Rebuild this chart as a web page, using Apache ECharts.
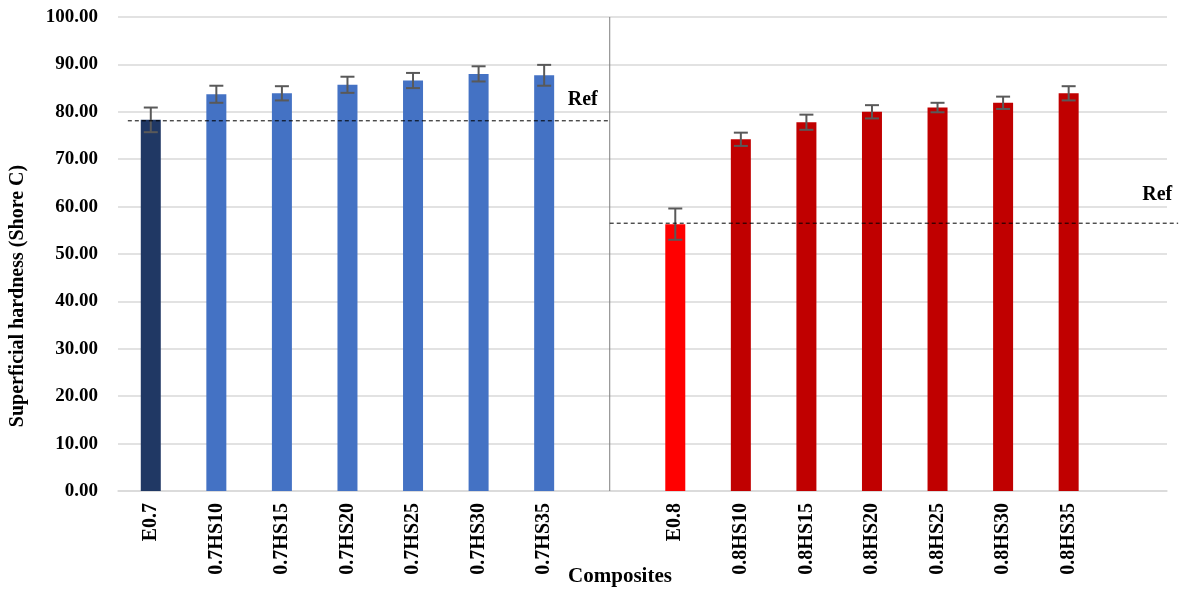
<!DOCTYPE html>
<html><head><meta charset="utf-8">
<script src="https://cdn.jsdelivr.net/npm/echarts@6/dist/echarts.min.js"></script>
<style>html,body{margin:0;padding:0;background:#fff}#c{width:1187px;height:596px}</style>
</head><body><div id="c"></div>
<script>
const categories = ['E0.7','0.7HS10','0.7HS15','0.7HS20','0.7HS25','0.7HS30','0.7HS35','gap1',
                    'E0.8','0.8HS10','0.8HS15','0.8HS20','0.8HS25','0.8HS30','0.8HS35','gap2'];
const hardness = [78.3, 83.7, 83.9, 85.7, 86.6, 88.0, 87.7, null,
                  56.3, 74.2, 77.8, 80.0, 80.9, 81.9, 83.9, null];
const errors = [2.6, 1.8, 1.5, 1.7, 1.6, 1.6, 2.2, null,
                3.3, 1.4, 1.6, 1.4, 1.0, 1.3, 1.5, null];
const barColors = ['#203864','#4472c4','#4472c4','#4472c4','#4472c4','#4472c4','#4472c4',null,
                   '#ff0000','#c00000','#c00000','#c00000','#c00000','#c00000','#c00000',null];
const refValues = [78.1, 56.5];
const yTicks = [0,10,20,30,40,50,60,70,80,90,100];

const font = 'Liberation Serif';
const chart = echarts.init(document.getElementById('c'));

const barData = hardness.map((v,i)=> v==null ? null : {value:v, itemStyle:{color:barColors[i]}});
const errData = hardness.map((v,i)=> v==null ? null : [i, v-errors[i], v+errors[i]]).filter(d=>d);

chart.setOption({
  animation:false,
  grid:{left:118,right:20,top:17,bottom:105},
  graphic:[
    {type:'text', x:18, y:296, rotation:Math.PI/2,
     style:{text:'Superficial hardness (Shore C)', align:'center', verticalAlign:'middle',
            fontFamily:font, fontWeight:'bold', fontSize:20, fill:'#000'}},
    {type:'text', x:620, y:577,
     style:{text:'Composites', align:'center', verticalAlign:'middle',
            fontFamily:font, fontWeight:'bold', fontSize:21, fill:'#000'}}
  ],
  xAxis:{
    type:'category', data:categories,
    axisLine:{lineStyle:{color:'#d9d9d9',width:1.5}},
    axisTick:{show:false},
    axisLabel:{rotate:90,interval:0,fontFamily:font,fontWeight:'bold',fontSize:20,color:'#000',margin:12,
      formatter:v=> v.indexOf('gap')===0 ? '' : v}
  },
  yAxis:{
    type:'value', min:0, max:100, interval:10,
    axisLine:{show:false}, axisTick:{show:false},
    axisLabel:{fontFamily:font,fontWeight:'bold',fontSize:19,color:'#000',margin:20,
      formatter:v=>v.toFixed(2)},
    splitLine:{lineStyle:{color:'#d9d9d9',width:1.5}}
  },
  series:[
    {type:'bar', data:barData, barWidth:20, z:2},
    {type:'custom', z:5, data:errData, clip:false,
      renderItem:(params,api)=>{
        const x=api.value(0);
        const lo=api.coord([x,api.value(1)]);
        const hi=api.coord([x,api.value(2)]);
        const w=7;
        const st={stroke:'#595959',lineWidth:2};
        return {type:'group',children:[
          {type:'line',shape:{x1:lo[0],y1:lo[1],x2:hi[0],y2:hi[1]},style:st},
          {type:'line',shape:{x1:lo[0]-w,y1:lo[1],x2:lo[0]+w,y2:lo[1]},style:st},
          {type:'line',shape:{x1:hi[0]-w,y1:hi[1],x2:hi[0]+w,y2:hi[1]},style:st}
        ]};
      }},
    {type:'custom', z:6, clip:false,
      data:[[0,7,15]],
      renderItem:(params,api)=>{
        const band=api.size([1,0])[0];
        const sepTop=api.coord([api.value(1),100]);
        const sepBot=api.coord([api.value(1),0]);
        const l1a=api.coord([api.value(0),refValues[0]]);
        const l1b=api.coord([api.value(1),refValues[0]]);
        const l2a=api.coord([api.value(1),refValues[1]]);
        const l2b=api.coord([api.value(2),refValues[1]]);
        const dash={stroke:'#000',lineWidth:1,lineDash:[4,3]};
        const lab={fill:'#000',fontFamily:font,fontWeight:'bold',fontSize:20};
        return {type:'group',children:[
          {type:'line',shape:{x1:sepTop[0],y1:sepTop[1],x2:sepBot[0],y2:sepBot[1]},style:{stroke:'#7f7f7f',lineWidth:1}},
          {type:'line',shape:{x1:l1a[0]-0.35*band,y1:l1a[1],x2:l1b[0],y2:l1b[1]},style:dash},
          {type:'line',shape:{x1:l2a[0],y1:l2a[1],x2:l2b[0]+0.67*band,y2:l2b[1]},style:dash},
          {type:'text',x:l1b[0]-12,y:l1a[1]-11,style:Object.assign({text:'Ref',align:'right',verticalAlign:'bottom'},lab)},
          {type:'text',x:l2b[0]+0.58*band,y:l2a[1]-18,style:Object.assign({text:'Ref',align:'right',verticalAlign:'bottom'},lab)}
        ]};
      }}
  ]
});
</script></body></html>
